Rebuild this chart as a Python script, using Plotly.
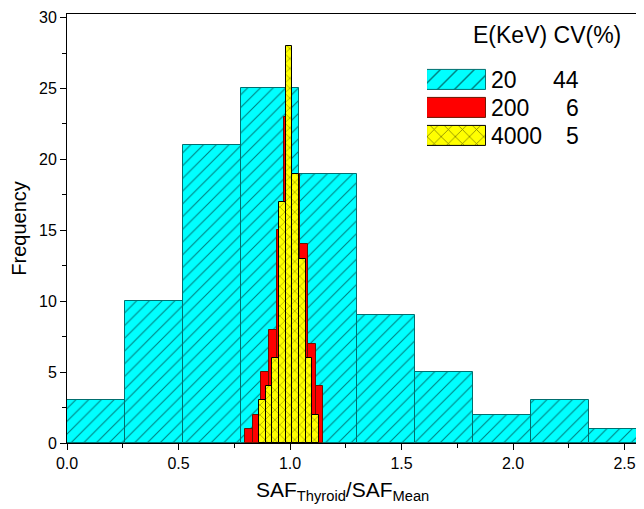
import plotly.graph_objects as go

# ---- data ----
# E = 20 keV (CV 44 %)
low_left = [0.00, 0.26, 0.52, 0.78, 1.04, 1.30, 1.56, 1.82, 2.08, 2.34]
low_width = 0.26
low_counts = [3, 10, 21, 25, 19, 9, 5, 2, 3, 1]

# E = 200 keV (CV 6 %)
mid_left = [0.800, 0.835, 0.870, 0.905, 0.940, 0.975, 1.010, 1.045, 1.080, 1.115]
mid_width = 0.035
mid_counts = [1, 2, 5, 8, 15, 23, 19, 14, 7, 4]

# E = 4000 keV (CV 5 %)
high_left = [0.86, 0.89, 0.92, 0.95, 0.98, 1.01, 1.04, 1.07, 1.10]
high_width = 0.03
high_counts = [3, 4, 6, 17, 28, 19, 13, 6, 2]

# legend table
energies = ["20", "200", "4000"]
cvs = ["44", "6", "5"]
legend_title = "E(KeV) CV(%)"

x_ticks = [0.0, 0.5, 1.0, 1.5, 2.0, 2.5]
y_ticks = [0, 5, 10, 15, 20, 25, 30]

FONT = "Liberation Sans, Arial, sans-serif"
LEG_SIZE = 23

cyan_marker = dict(color="#00FFFF", line=dict(color="#006F6F", width=1),
                   pattern=dict(shape="/", fgcolor="#000000", bgcolor="#00FFFF",
                                size=9, solidity=0.12))
red_marker = dict(color="#FF0000", line=dict(color="#6A1500", width=1))
yellow_marker = dict(color="#FFFF00", line=dict(color="#000000", width=1),
                     pattern=dict(shape="x", fgcolor="#000000", bgcolor="#FFFF00",
                                  size=7, solidity=0.15))
markers = [cyan_marker, red_marker, yellow_marker]

fig = go.Figure()
for left, w, counts, mk, e in [(low_left, low_width, low_counts, cyan_marker, energies[0]),
                               (mid_left, mid_width, mid_counts, red_marker, energies[1]),
                               (high_left, high_width, high_counts, yellow_marker, energies[2])]:
    fig.add_trace(go.Bar(x=left, y=counts, width=w, offset=0, name=e + " keV",
                         marker=mk, showlegend=False))

# legend swatches drawn as a tiny horizontal bar chart on its own axes
for e, mk in zip(energies, markers):
    mk2 = dict(mk)
    if "pattern" in mk2:
        mk2 = dict(mk2, pattern=dict(mk2["pattern"], size=mk2["pattern"]["size"] + 3))
    fig.add_trace(go.Bar(y=[e], x=[1], orientation="h", marker=mk2,
                         xaxis="x2", yaxis="y2", showlegend=False,
                         hoverinfo="skip", width=0.72))

# the page body has an 8 px margin, so the figure is shifted by 8 px
fig.update_layout(
    width=636, height=501,
    margin=dict(l=59, r=0, t=6, b=66),
    barmode="overlay",
    bargap=0,
    plot_bgcolor="white", paper_bgcolor="white",
    font=dict(family=FONT, size=16, color="black"),
    showlegend=False,
    xaxis=dict(
        range=[0, 2.587], automargin=False,
        tickvals=x_ticks, ticktext=[f"{v:.1f}" for v in x_ticks],
        ticks="outside", ticklen=6, tickwidth=1, tickcolor="black",
        minor=dict(dtick=0.25, ticks="outside", ticklen=4, tickcolor="black"),
        showline=True, linecolor="black", linewidth=1, mirror=True,
        showgrid=False, zeroline=False,
        tickfont=dict(size=16),
    ),
    yaxis=dict(
        range=[0, 30.25], automargin=False,
        tickvals=y_ticks,
        ticks="outside", ticklen=6, tickwidth=1, tickcolor="black",
        minor=dict(dtick=2.5, ticks="outside", ticklen=4, tickcolor="black"),
        showline=True, linecolor="black", linewidth=1,
        showgrid=False, zeroline=False,
        tickfont=dict(size=16),
        title=dict(text="Frequency", font=dict(size=20), standoff=12),
    ),
    xaxis2=dict(domain=[0.624, 0.726], anchor="y2", range=[0, 1],
                visible=False, fixedrange=True),
    yaxis2=dict(domain=[0.683, 0.879], anchor="x2", side="right", type="category",
                categoryorder="array", categoryarray=energies[::-1],
                range=[-0.5, 2.5], showline=False, showgrid=False, zeroline=False,
                ticks="", tickfont=dict(size=LEG_SIZE), ticklabelstandoff=4,
                automargin=False, fixedrange=True),
)

# x-axis title
fig.add_annotation(x=0.478, xref="paper", y=-0.112, yref="paper",
                   text="SAF<sub>Thyroid</sub>/SAF<sub>Mean</sub>",
                   showarrow=False, xanchor="center", yanchor="middle",
                   font=dict(family=FONT, size=21))

# CV column and table header
order = energies[::-1]
for e, cv in zip(energies, cvs):
    fig.add_annotation(x=0.890, xref="paper", y=order.index(e), yref="y2", text=cv,
                       showarrow=False, xanchor="right",
                       font=dict(family=FONT, size=LEG_SIZE))
fig.add_annotation(x=0.700, xref="paper", y=0.952, yref="paper", text=legend_title,
                   showarrow=False, xanchor="left", yanchor="middle",
                   font=dict(family=FONT, size=LEG_SIZE))

fig.write_html("out.html")
